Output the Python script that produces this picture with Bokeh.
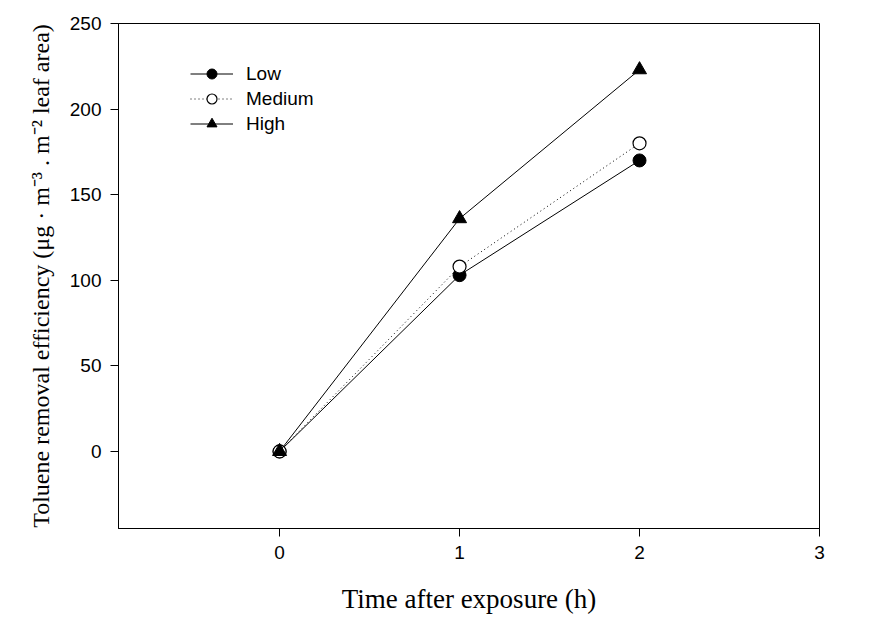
from bokeh.plotting import figure
from bokeh.models import Range1d, FixedTicker, Legend, LegendItem
from bokeh.embed import file_html
from bokeh.resources import INLINE

time_h = [0, 1, 2]
low = [0, 103, 170]
medium = [0, 108, 180]
high = [0, 136, 223]
series_names = ["Low", "Medium", "High"]
x_ticks = [0, 1, 2, 3]
y_ticks = [0, 50, 100, 150, 200, 250]

p = figure(frame_width=701, frame_height=505, output_backend="svg", toolbar_location=None,
           x_range=Range1d(-0.895, 3.0), y_range=Range1d(-45, 250),
           min_border_left=118, min_border_right=41, min_border_top=23, min_border_bottom=60)
p.xgrid.visible = False
p.ygrid.visible = False
p.outline_line_color = "black"
p.outline_line_width = 1
p.background_fill_color = "white"
p.border_fill_color = "white"

for ax, ticks in ((p.xaxis[0], x_ticks), (p.yaxis[0], y_ticks)):
    ax.ticker = FixedTicker(ticks=ticks)
    ax.minor_tick_line_color = None
    ax.major_tick_in = 0
    ax.major_tick_out = 8
    ax.axis_line_color = "black"
    ax.major_tick_line_color = "black"
    ax.major_label_text_font = "Liberation Sans"
    ax.major_label_text_font_size = "19px"
    ax.major_label_text_color = "black"
    ax.axis_label_text_font = "Liberation Serif"
    ax.axis_label_text_font_style = "normal"
    ax.axis_label_text_color = "black"

p.xaxis.axis_label = "Time after exposure (h)"
p.xaxis.axis_label_text_font_size = "27px"
p.xaxis.major_label_standoff = 9
p.xaxis.axis_label_standoff = 22
p.yaxis.axis_label = "Toluene removal efficiency (\u03bcg \u00b7 m\u207b\u00b3 . m\u207b\u00b2 leaf area)"
p.yaxis.axis_label_text_font_size = "24px"
p.yaxis.major_label_standoff = 9
p.yaxis.axis_label_standoff = 13

r_low_l = p.line(time_h, low, line_color="black", line_width=1)
r_low_m = p.scatter(time_h, low, marker="circle", size=13, fill_color="black", line_color="black")
r_med_l = p.line(time_h, medium, line_color="black", line_width=1, line_dash="1 3")
r_med_m = p.scatter(time_h, medium, marker="circle", size=13, fill_color="white", line_color="black", line_width=1.2)
r_high_l = p.line(time_h, high, line_color="black", line_width=1)
r_high_m = p.scatter(time_h, high, marker="triangle", size=14, fill_color="black", line_color="black")

legend = Legend(items=[
    LegendItem(label=series_names[0], renderers=[r_low_l, r_low_m]),
    LegendItem(label=series_names[1], renderers=[r_med_l, r_med_m]),
    LegendItem(label=series_names[2], renderers=[r_high_l, r_high_m]),
], location=(72, 392))
legend.border_line_color = None
legend.background_fill_alpha = 0
legend.padding = 0
legend.margin = 0
legend.spacing = 0
legend.glyph_width = 43
legend.glyph_height = 25
legend.label_height = 25
legend.label_standoff = 13
legend.label_text_font = "Liberation Sans"
legend.label_text_font_size = "19px"
legend.label_text_color = "black"
p.add_layout(legend)

open("out.html", "w").write(file_html(p, INLINE))
